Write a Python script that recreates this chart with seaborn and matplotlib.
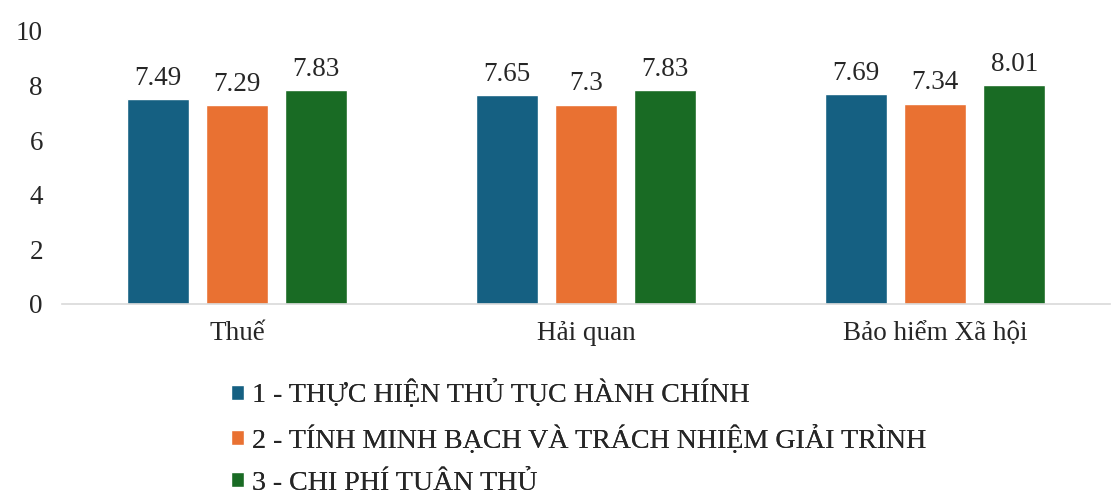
import pandas as pd
import numpy as np
import seaborn as sns
import matplotlib.pyplot as plt

# du lieu
categories = ['Thuế', 'Hải quan', 'Bảo hiểm Xã hội']
series = ['1 - THỰC HIỆN THỦ TỤC HÀNH CHÍNH',
          '2 - TÍNH MINH BẠCH VÀ TRÁCH NHIỆM GIẢI TRÌNH',
          '3 - CHI PHÍ TUÂN THỦ']
s1 = [7.49, 7.65, 7.69]
s2 = [7.29, 7.30, 7.34]
s3 = [7.83, 7.83, 8.01]
colors = ['#156082', '#E97132', '#196B24']

df = pd.DataFrame({
    'cat': categories * 3,
    'series': [series[0]] * 3 + [series[1]] * 3 + [series[2]] * 3,
    'value': s1 + s2 + s3,
})

sns.set_style('white')
plt.rcParams['font.family'] = ['Liberation Serif', 'DejaVu Serif']

fig = plt.figure(figsize=(11.14, 4.98), dpi=100)
ax = fig.add_axes([0.056, 0.3896, 0.94, 0.5482])

sns.barplot(data=df, x='cat', y='value', hue='series', palette=colors,
            width=0.68, gap=0.21, ax=ax, errorbar=None, saturation=1)

for c in ax.containers:
    ax.bar_label(c, fmt='%g', padding=6, fontsize=19.5)

ax.set_ylim(0, 10)
ax.set_yticks([0, 2, 4, 6, 8, 10])
ax.set_xlim(-0.5, 2.5)
ax.set_xlabel('')
ax.set_ylabel('')
ax.tick_params(axis='both', length=0, labelsize=19.5)
ax.tick_params(axis='y', pad=14)
ax.tick_params(axis='x', pad=12)
for s in ['top', 'right', 'left']:
    ax.spines[s].set_visible(False)
ax.spines['bottom'].set_color('#d9d9d9')
ax.spines['bottom'].set_linewidth(1.2)

# chu thich: moi dong mot legend de khoang cach deu nhau
handles, labels = ax.get_legend_handles_labels()
ax.get_legend().remove()
row_y = [0.209, 0.118, 0.03]
for h, l, y in zip(handles, labels, row_y):
    leg = fig.legend([h], [l], loc='center left', bbox_to_anchor=(0.195, y),
                     frameon=False, fontsize=20.2, handlelength=0.45,
                     handleheight=0.45, handletextpad=0.3, borderpad=0)
    fig.add_artist(leg)

plt.savefig('out.png', dpi=100)
